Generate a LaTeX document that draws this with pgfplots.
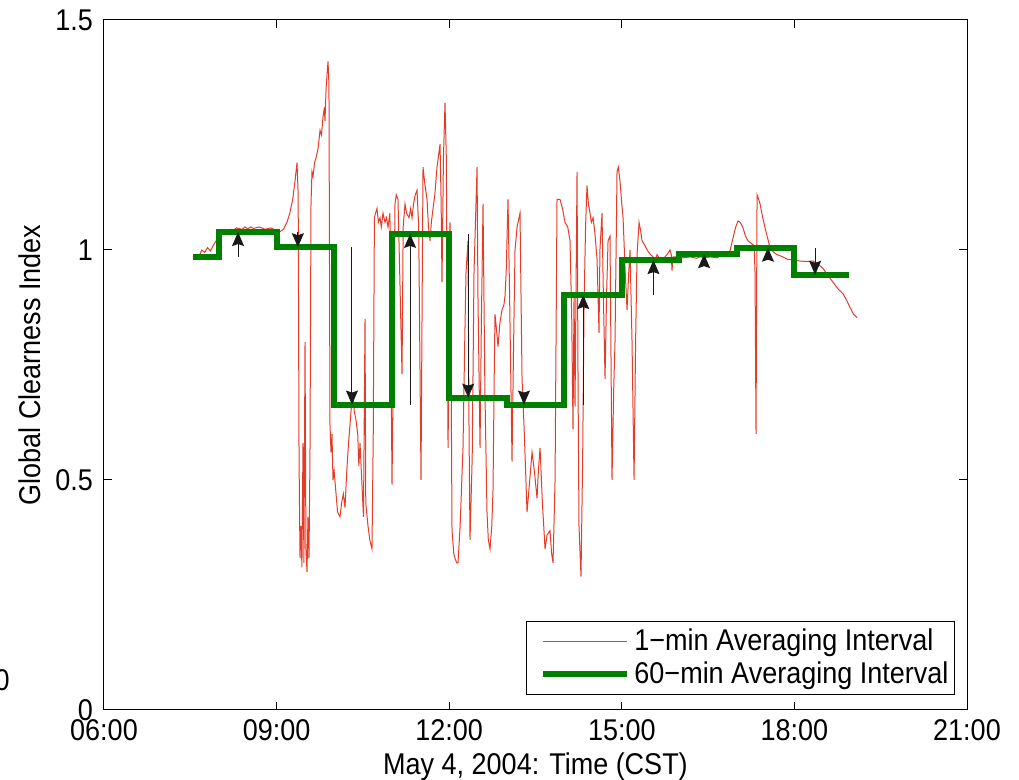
\documentclass[border=0pt]{standalone}
\usepackage{fontspec}
\setmainfont{Liberation Sans}[FakeStretch=0.9]
\usepackage{pgfplots}
\pgfplotsset{compat=1.18}
\usetikzlibrary{arrows.meta}
\definecolor{redline}{RGB}{228,60,40}
\definecolor{mgreen}{RGB}{0,128,0}
\newcommand{\ff}{\fontsize{15pt}{17pt}\selectfont}

\pgfplotstableread{
h y
7.547 0.985
7.60 0.99
7.65 0.985
7.70 1.00
7.75 0.995
7.80 1.005
7.85 0.998
7.90 1.01
7.95 1.02
8.00 1.03
8.05 1.035
8.10 1.04
8.15 1.038
8.20 1.045
8.25 1.042
8.30 1.048
8.40 1.045
8.45 1.05
8.50 1.046
8.55 1.05
8.60 1.047
8.70 1.05
8.80 1.045
8.90 1.048
9.00 1.042
9.06 1.04
9.12 1.045
9.18 1.06
9.23 1.08
9.28 1.11
9.32 1.15
9.355 1.19
9.375 1.12
9.39 0.55
9.407 0.33
9.424 0.40
9.44 0.31
9.459 0.58
9.475 0.32
9.494 0.80
9.51 0.35
9.529 0.30
9.545 0.42
9.563 0.33
9.58 0.55
9.598 1.10
9.615 1.17
9.633 1.16
9.66 1.19
9.685 1.20
9.72 1.22
9.755 1.26
9.78 1.25
9.807 1.29
9.83 1.31
9.841 1.28
9.86 1.35
9.876 1.38
9.894 1.41
9.91 1.36
9.928 0.62
9.946 0.56
9.963 0.60
9.98 0.50
10.00 0.52
10.033 0.47
10.06 0.43
10.102 0.42
10.13 0.45
10.16 0.47
10.189 0.44
10.22 0.52
10.25 0.58
10.276 0.62
10.30 0.66
10.328 0.68
10.35 0.65
10.38 0.63
10.41 0.60
10.43 0.53
10.45 0.58
10.48 0.50
10.51 0.42
10.537 0.85
10.55 0.45
10.589 0.40
10.62 0.37
10.658 0.35
10.68 0.60
10.70 1.07
10.72 1.08
10.745 1.09
10.77 1.06
10.798 1.07
10.82 1.05
10.85 1.08
10.884 1.06
10.91 1.07
10.937 1.05
10.97 1.08
11.006 0.49
11.03 0.75
11.058 1.10
11.08 1.12
11.110 1.11
11.14 0.95
11.180 0.73
11.20 1.05
11.232 1.10
11.26 1.08
11.301 1.07
11.33 1.09
11.354 1.07
11.38 1.10
11.41 1.12
11.441 1.13
11.47 1.05
11.510 0.50
11.53 0.90
11.545 1.18
11.58 1.14
11.615 1.11
11.64 1.05
11.667 1.02
11.69 1.06
11.719 1.09
11.75 1.12
11.788 1.18
11.841 1.23
11.86 1.10
11.875 0.93
11.90 1.20
11.927 1.32
11.95 1.20
11.980 0.57
12.00 0.80
12.014 1.06
12.03 0.80
12.049 0.39
12.08 0.34
12.101 0.33
12.13 0.32
12.153 0.32
12.19 0.40
12.240 0.57
12.27 0.80
12.292 0.95
12.327 1.02
12.345 0.60
12.362 0.37
12.40 0.55
12.431 0.95
12.484 1.18
12.50 0.90
12.536 0.57
12.56 0.85
12.588 1.10
12.62 0.70
12.657 0.43
12.68 0.37
12.710 0.35
12.74 0.40
12.762 0.48
12.78 0.70
12.796 0.86
12.82 0.83
12.849 0.79
12.88 0.84
12.918 0.87
12.95 0.88
12.970 0.90
12.99 0.95
13.022 1.11
13.05 0.90
13.092 0.54
13.12 0.80
13.144 1.00
13.18 1.05
13.231 1.08
13.266 0.72
13.30 0.62
13.353 0.43
13.40 0.50
13.440 0.56
13.48 0.52
13.527 0.46
13.55 0.52
13.579 0.57
13.62 0.45
13.666 0.35
13.70 0.38
13.752 0.39
13.78 0.34
13.805 0.32
13.84 0.50
13.874 1.11
13.90 1.11
13.926 1.11
13.97 1.09
14.013 1.06
14.06 1.05
14.100 1.02
14.13 0.85
14.152 0.61
14.17 0.90
14.187 0.66
14.222 1.17
14.24 0.70
14.256 0.40
14.291 0.29
14.32 0.55
14.343 0.87
14.37 1.05
14.395 1.14
14.42 1.10
14.448 1.08
14.47 1.06
14.500 1.07
14.53 1.04
14.570 0.98
14.604 0.82
14.62 1.00
14.656 1.08
14.68 0.90
14.709 0.72
14.735 0.90
14.761 1.02
14.795 1.03
14.830 0.50
14.86 0.70
14.882 0.80
14.917 1.17
14.94 1.18
14.969 1.15
15.00 1.10
15.022 1.07
15.06 0.95
15.091 0.87
15.12 0.95
15.143 1.00
15.178 0.80
15.213 0.50
15.24 0.80
15.265 0.99
15.300 1.06
15.33 1.04
15.352 1.02
15.40 1.01
15.439 1.00
15.50 0.99
15.543 0.985
15.58 0.975
15.613 0.99
15.664 0.98
15.717 0.976
15.75 0.985
15.786 0.99
15.838 1.00
15.86 0.99
15.873 0.955
15.891 0.985
15.95 0.985
16.064 0.983
16.186 0.985
16.30 0.982
16.360 0.985
16.45 0.983
16.534 0.985
16.655 0.983
16.75 0.99
16.881 0.998
16.933 1.026
16.98 1.05
17.020 1.063
17.06 1.06
17.107 1.048
17.15 1.03
17.194 1.02
17.264 1.013
17.30 1.01
17.316 0.95
17.333 0.60
17.34 0.80
17.351 1.12
17.38 1.11
17.403 1.10
17.45 1.07
17.490 1.048
17.577 1.005
17.64 0.995
17.698 0.99
17.80 0.985
17.872 0.98
18.00 0.978
18.098 0.976
18.20 0.975
18.324 0.976
18.40 0.97
18.498 0.96
18.58 0.945
18.672 0.93
18.76 0.915
18.845 0.905
18.91 0.89
18.967 0.875
19.03 0.86
19.089 0.853
}\oneminute

\pgfplotstableread{
h y
7.55 0.985
8 1.039
9 1.006
10 0.664
11 1.035
12 0.679
13 0.664
14 0.902
15 0.978
16 0.991
17 1.005
18 0.946
18.95 0.946
}\sixtymin

\pgfplotstableread{
x y u v
8.33 0.985 0 0.054
9.37 1.039 0 -0.033
10.31 1.006 0 -0.342
11.32 0.664 0 0.371
12.33 1.035 0 -0.356
13.30 0.679 0 -0.015
14.33 0.664 0 0.238
15.55 0.902 0 0.076
16.43 0.978 0 0.013
17.54 0.991 0 0.014
18.36 1.005 0 -0.059
}\arrows

\begin{document}
\begin{tikzpicture}
\begin{axis}[
  scale only axis,
  width=431.5pt, height=345pt,
  xmin=6, xmax=21, ymin=0, ymax=1.5,
  xtick={6,9,12,15,18,21},
  xticklabels={06:00,09:00,12:00,15:00,18:00,21:00},
  ytick={0,0.5,1,1.5},
  yticklabels={0,0.5,1,1.5},
  tick align=inside,
  major tick length=4pt,
  axis line style={line width=0.5pt},
  every tick/.style={black, line width=0.5pt},
  tick label style={font=\ff},
  yticklabel style={xshift=-2pt},
  xticklabel style={yshift=-1pt},
  /pgf/number format/assume math mode=true,
  xlabel={May 4, 2004: Time (CST)},
  ylabel={Global Clearness Index},
  label style={font=\ff},
  xlabel style={at={(axis description cs:0.5,-0.0928)}, anchor=base},
  ylabel style={at={(axis description cs:-0.073,0.5)}, anchor=base},
  legend style={at={(rel axis cs:0.986,0.0217)}, anchor=south east,
    draw=black, line width=0.5pt, font=\ff, inner xsep=1pt, inner ysep=2pt,
    row sep=0pt, nodes={inner sep=2pt}},
  legend cell align=left,
  legend image code/.code={\path (0pt,0pt); \draw[#1] (6pt,0pt) -- (48pt,0pt);},
]
\addplot[redline, line width=0.5pt] table[x=h, y=y] {\oneminute};
\addlegendentry{1−min Averaging Interval}
\addplot[mgreen, line width=3pt, const plot] table[x=h, y=y] {\sixtymin};
\addlegendentry{60−min Averaging Interval}
\addplot[black!90, line width=0.5pt, -{Stealth[length=7pt, width=6pt, inset=1pt]},
  quiver={u=\thisrow{u}, v=\thisrow{v}}, forget plot] table[x=x, y=y] {\arrows};
\end{axis}
\node[anchor=east, font=\ff, inner sep=0pt] at (-47pt,15pt) {00};
\pgfresetboundingbox
\path[use as bounding box] (-52pt,-35pt) rectangle (457.5pt,355pt);
\end{tikzpicture}
\end{document}
